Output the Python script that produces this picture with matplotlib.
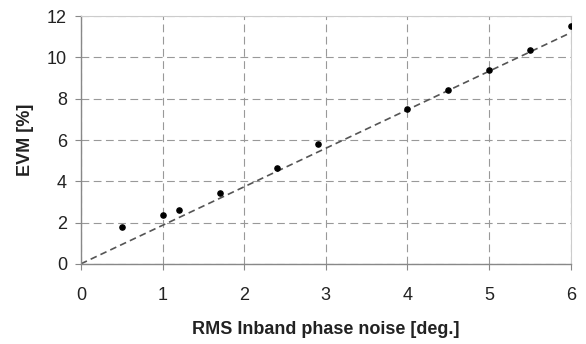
import matplotlib.pyplot as plt

# measured points
phase_noise = [0.5, 1.0, 1.2, 1.7, 2.4, 2.9, 4.0, 4.5, 5.0, 5.5, 6.0]
evm = [1.8, 2.35, 2.6, 3.45, 4.65, 5.8, 7.5, 8.4, 9.4, 10.35, 11.5]

# linear trend line
fit_x = [0, 6]
fit_y = [0, 11.2]

plt.rcParams['font.family'] = ['Liberation Sans', 'DejaVu Sans']

fig = plt.figure(figsize=(5.86, 3.44), dpi=100)
ax = fig.add_axes([0.138, 0.233, 0.836, 0.72])

ax.plot(fit_x, fit_y, linestyle=(0, (4, 2.5)), color='#555555', linewidth=1.2, zorder=2)
ax.scatter(phase_noise, evm, s=14, color='black', zorder=3)

ax.set_xlim(0, 6)
ax.set_ylim(0, 12)
ax.set_xticks(range(0, 7))
ax.set_yticks(range(0, 13, 2))

ax.grid(True, linestyle=(0, (7, 4)), color='#999999', linewidth=0.8)
ax.set_axisbelow(True)

for side in ['left', 'bottom']:
    ax.spines[side].set_color('#888888')
    ax.spines[side].set_linewidth(1.0)
for side in ['top', 'right']:
    ax.spines[side].set_color('#cccccc')
    ax.spines[side].set_linewidth(0.8)

ax.tick_params(axis='both', length=4, color='#888888', labelsize=13, labelcolor='#222222')
ax.tick_params(axis='y', pad=6)
ax.tick_params(axis='x', pad=13)

ax.set_xlabel('RMS Inband phase noise [deg.]', fontsize=13, fontweight='bold', color='#222222', labelpad=12)
ax.set_ylabel('EVM [%]', fontsize=13, fontweight='bold', color='#222222', labelpad=9)

plt.savefig('out.png', dpi=100)
plt.close()
